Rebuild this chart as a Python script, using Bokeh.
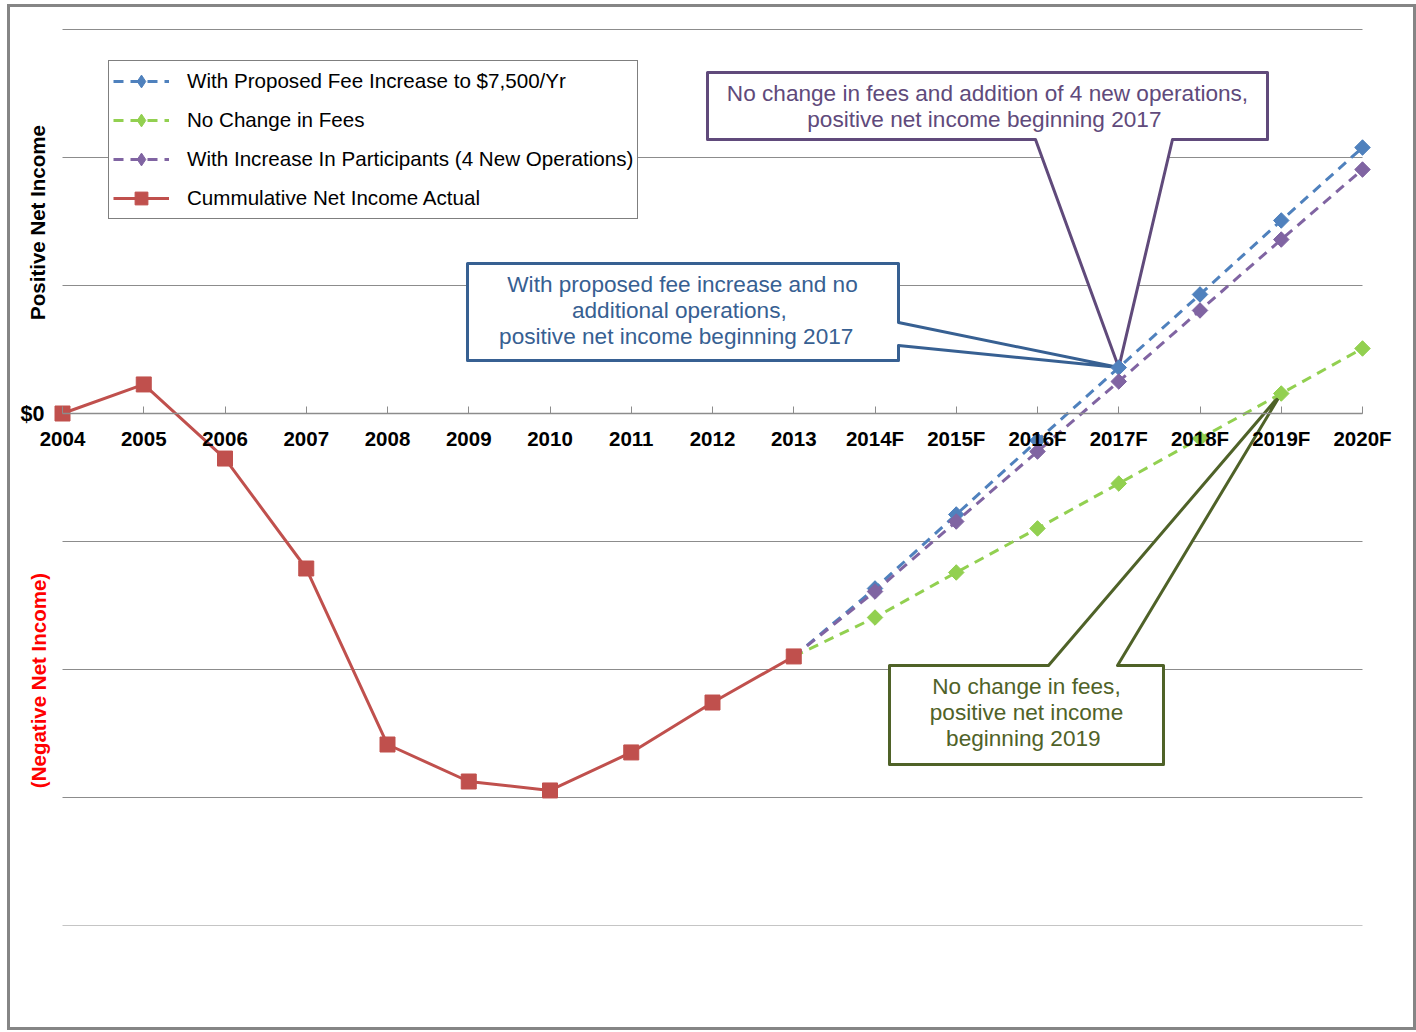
import numpy as np
from bokeh.plotting import figure
from bokeh.models import FixedTicker, Legend, LegendItem, Range1d
from bokeh.core.properties import value
from bokeh.embed import file_html
from bokeh.resources import INLINE

# ---------------- data (values in gridline units; only $0 is labelled) ----------------
years = ["2004", "2005", "2006", "2007", "2008", "2009", "2010", "2011", "2012", "2013",
         "2014F", "2015F", "2016F", "2017F", "2018F", "2019F", "2020F"]
actual = [0.0, 0.227, -0.352, -1.211, -2.586, -2.875, -2.945, -2.648, -2.258, -1.898]
fee_increase = [-1.367, -0.789, -0.211, 0.359, 0.930, 1.508, 2.078]
no_change = [-1.594, -1.242, -0.898, -0.547, -0.195, 0.156, 0.508]
participants = [-1.391, -0.844, -0.297, 0.250, 0.805, 1.359, 1.906]
y_ticks = [-4, -3, -2, -1, 0, 1, 2, 3]
y_tick_labels = {0: "$0"}

series_names = ["With Proposed Fee Increase to $7,500/Yr", "No Change in Fees",
                "With Increase In Participants (4 New Operations)", "Cummulative Net Income Actual"]

FONT = "Liberation Sans"
BLUE, GREEN, PURPLE, RED = "#4F81BD", "#92D050", "#8064A2", "#C0504D"
PURPLE_D, BLUE_D, GREEN_D = "#604A7B", "#376092", "#4F6228"
GRID = "#8C8C8C"

# ---------------- layout (page pixels) ----------------
PAGE_L, PAGE_T = 10, 7           # figure placed here on the page (outline drawn outside)
W, H = 1403, 1020
X0_PX, X1_PX = 62, 1362          # first / last category
Y0_PX, YTOP_PX, YBOT_PX = 413, 29, 925   # value 0, top gridline, bottom gridline
nx = len(years) - 1
PPX = (X1_PX - X0_PX) / nx
PPY = (YBOT_PX - YTOP_PX) / (max(y_ticks) - min(y_ticks))

def dx(px):
    return (px - X0_PX) / PPX

def dy(py):
    return (Y0_PX - py) / PPY

x_actual = list(range(len(actual)))
x_fc = list(range(len(actual), len(years)))
x_fc_line = [len(actual) - 1] + x_fc

p = figure(width=W, height=H, output_backend="svg", toolbar_location=None,
           y_axis_location=None,
           x_range=Range1d(dx(PAGE_L), dx(PAGE_L + W)),
           y_range=Range1d(dy(YBOT_PX), dy(PAGE_T)),
           min_border_left=0, min_border_right=0, min_border_top=0,
           min_border_bottom=PAGE_T + H - YBOT_PX)
p.outline_line_color = None
p.background_fill_color = "white"
p.border_fill_color = "white"
p.styles = {"margin-left": f"{PAGE_L}px", "margin-top": f"{PAGE_T}px",
            "outline": "3px solid #858585", "outline-offset": "0px"}

p.xgrid.grid_line_color = None
p.ygrid.grid_line_color = None

# horizontal gridlines spanning first..last category
p.segment(x0=[0] * len(y_ticks), x1=[nx] * len(y_ticks), y0=y_ticks, y1=y_ticks,
          line_color=GRID, line_width=1)

# x axis at y = 0
p.xaxis.fixed_location = 0
p.xaxis.bounds = (0, nx)
p.xaxis.ticker = FixedTicker(ticks=list(range(len(years))))
p.xaxis.major_label_overrides = {i: y for i, y in enumerate(years)}
p.xaxis.axis_line_color = GRID
p.xaxis.axis_line_width = 1.5
p.xaxis.major_tick_line_color = GRID
p.xaxis.major_tick_in = 7
p.xaxis.major_tick_out = 0
p.xaxis.minor_tick_line_color = None
p.xaxis.major_label_text_font = FONT
p.xaxis.major_label_text_font_style = "bold"
p.xaxis.major_label_text_font_size = "20.5px"
p.xaxis.major_label_text_color = "black"
p.xaxis.major_label_standoff = 13

# y tick label ($0 only)
lbl_y = [t for t in y_ticks if t in y_tick_labels]
p.text(x=[0] * len(lbl_y), y=lbl_y, text=[y_tick_labels[t] for t in lbl_y], x_offset=-18,
       text_font=value(FONT), text_font_style="bold", text_font_size="21.5px",
       text_color="black", text_align="right", text_baseline="middle")

# ---------------- callouts (drawn beneath the series) ----------------
tip17 = (x_fc[3], fee_increase[3])
tip19 = (x_fc[5], no_change[5])

def callout(pts, color):
    xs, ys = [], []
    for kind, a, b in pts:
        if kind == "px":
            xs.append(dx(a)); ys.append(dy(b))
        else:
            xs.append(a); ys.append(b)
    p.patch(xs, ys, fill_color="white", line_color=color, line_width=3, line_join="round")

callout([("px", 707, 72), ("px", 1267, 72), ("px", 1267, 139), ("px", 1172, 139),
         ("d", *tip17), ("px", 1035, 139), ("px", 707, 139)], PURPLE_D)
callout([("px", 467, 263), ("px", 898, 263), ("px", 898, 322), ("d", *tip17),
         ("px", 898, 345), ("px", 898, 360), ("px", 467, 360)], BLUE_D)
callout([("px", 889, 665), ("px", 1048, 665), ("d", *tip19), ("px", 1117, 665),
         ("px", 1163, 665), ("px", 1163, 764), ("px", 889, 764)], GREEN_D)

def box_text(cx, cy, txt, color):
    p.text(x=[dx(cx)], y=[dy(cy)], text=[txt], text_font=value(FONT), text_font_size="22.6px",
           text_color=color, text_align="center", text_baseline="middle", text_line_height=1.05)

box_text(987, 106, "No change in fees and addition of 4 new operations,\npositive net income beginning  2017", PURPLE_D)
box_text(682, 310, "With proposed fee increase and no\nadditional  operations,\npositive net income  beginning  2017", BLUE_D)
box_text(1026, 712, "No change in fees,\npositive net income\nbeginning  2019", GREEN_D)

# ---------------- series ----------------
items = []
for name, vals, color in [(series_names[0], fee_increase, BLUE),
                          (series_names[1], no_change, GREEN),
                          (series_names[2], participants, PURPLE)]:
    ln = p.line(x_fc_line, [actual[-1]] + vals, line_color=color, line_width=3, line_dash="10 7")
    # diamond marks (also used for the legend swatch), overdrawn by square-rotated marks
    dm = p.scatter(x_fc, vals, marker="diamond", size=14, fill_color=color, line_color=color)
    p.scatter(x_fc, vals, marker="square", angle=np.pi / 4, size=11,
              fill_color=color, line_color=color)
    items.append(LegendItem(label=name, renderers=[ln, dm]))

ln = p.line(x_actual, actual, line_color=RED, line_width=3)
mk = p.scatter(x_actual, actual, marker="square", size=15, fill_color=RED, line_color=RED)
items.append(LegendItem(label=series_names[3], renderers=[ln, mk]))

legend = Legend(items=items, location=(108 - PAGE_L, YBOT_PX - 219), padding=4, spacing=7,
                glyph_height=32, glyph_width=56, label_height=32, label_standoff=18,
                label_text_font=FONT, label_text_font_size="20.6px", label_text_color="black",
                border_line_color="black", border_line_width=1,
                background_fill_color="white", background_fill_alpha=1.0, margin=0)
p.add_layout(legend)

# ---------------- side labels ----------------
p.text(x=[dx(37)], y=[dy(222)], text=["Positive Net Income"], angle=np.pi / 2,
       text_align="center", text_baseline="middle", text_font=value(FONT),
       text_font_style="bold", text_font_size="20.5px", text_color="black")
p.text(x=[dx(38)], y=[dy(680)], text=["(Negative Net Income)"], angle=np.pi / 2,
       text_align="center", text_baseline="middle", text_font=value(FONT),
       text_font_style="bold", text_font_size="20.5px", text_color="#FF0000")

open("out.html", "w").write(file_html(p, INLINE))
